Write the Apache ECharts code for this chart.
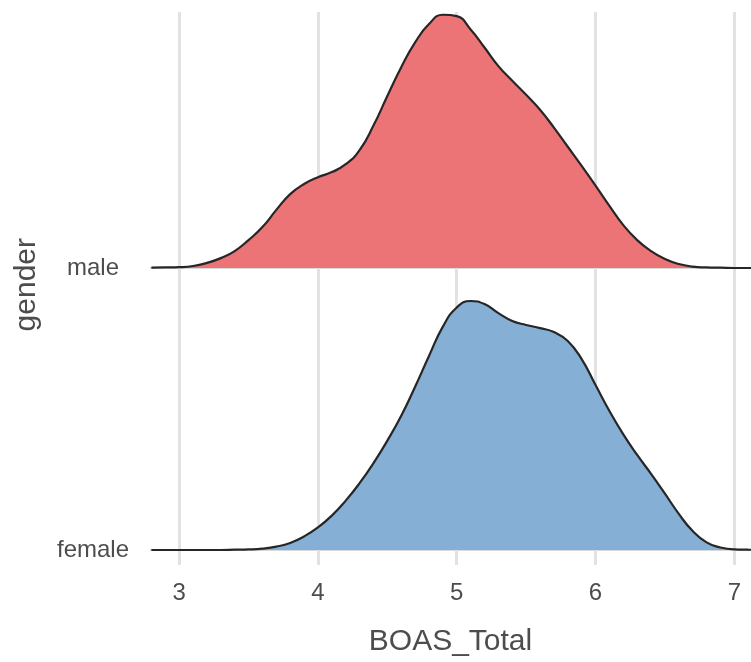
<!DOCTYPE html>
<html>
<head>
<meta charset="utf-8">
<script src="https://cdn.jsdelivr.net/npm/echarts@6/dist/echarts.min.js"></script>
<style>html,body{margin:0;padding:0;background:#fff;}#c{width:751px;height:662px;}</style>
</head>
<body>
<div id="c"></div>
<script>
// Data (ridgeline densities, heights relative to row spacing)
const xValues = [2.8,2.9,3.0,3.1,3.2,3.3,3.4,3.5,3.6,3.7,3.8,3.9,4.0,4.1,4.2,4.3,4.4,4.5,4.6,4.7,4.8,4.9,5.0,5.1,5.2,5.3,5.4,5.5,5.6,5.7,5.8,5.9,6.0,6.1,6.2,6.3,6.4,6.5,6.6,6.7,6.8,6.9,7.0,7.1,7.2];
const maleDensity = [0.001,0.002,0.003,0.007,0.018,0.035,0.060,0.099,0.145,0.206,0.262,0.298,0.322,0.340,0.368,0.418,0.505,0.610,0.712,0.800,0.865,0.898,0.893,0.846,0.782,0.716,0.664,0.614,0.561,0.498,0.430,0.362,0.292,0.220,0.152,0.099,0.060,0.032,0.014,0.005,0.002,0.001,0,0,0];
const femaleDensity = [0,0,0,0,0,0,0.001,0.002,0.005,0.012,0.025,0.048,0.080,0.122,0.175,0.237,0.308,0.388,0.476,0.579,0.688,0.792,0.860,0.883,0.872,0.840,0.812,0.798,0.787,0.773,0.741,0.677,0.585,0.493,0.410,0.337,0.270,0.200,0.128,0.067,0.027,0.009,0.002,0.001,0];
const categories = ['male', 'female'];
const xTicks = [3, 4, 5, 6, 7];

const maleData = xValues.map((x, i) => [x, maleDensity[i]]);
const femaleData = xValues.map((x, i) => [x, femaleDensity[i]]);

const chart = echarts.init(document.getElementById('c'), null, {renderer: 'canvas'});
const font = 'Liberation Sans, Arial, sans-serif';
const textColor = '#4d4d4d';
const gridColor = '#e2e2e2';
const baseColor = '#d9d9d9';

function xAxisFor(idx, withLabels) {
  return {
    type: 'value', gridIndex: idx, min: 2.79, max: 7.12,
    name: withLabels ? 'BOAS_Total' : '',
    nameLocation: 'middle', nameGap: 77,
    nameTextStyle: {fontSize: 30, color: textColor, fontFamily: font},
    axisLine: {show: false},
    axisTick: {show: withLabels, customValues: xTicks, length: 15, lineStyle: {color: gridColor, width: 3}},
    axisLabel: {show: withLabels, customValues: xTicks, margin: 31, fontSize: 24, color: textColor, fontFamily: font},
    splitLine: {show: true, showMinLine: true, showMaxLine: true, lineStyle: {color: gridColor, width: 3}}
  };
}
function yAxisFor(idx, max, label, rich) {
  return {
    type: 'value', gridIndex: idx, min: 0, max: max, interval: 1,
    axisLine: {show: false}, axisTick: {show: false},
    axisLabel: {
      margin: 21, fontSize: 24, color: textColor, fontFamily: font,
      customValues: [0],
      formatter: () => '{a|' + label + '}',
      rich: {a: rich}
    },
    splitLine: {show: true, showMinLine: true, showMaxLine: false, lineStyle: {color: baseColor, width: 2}}
  };
}

chart.setOption({
  animation: false,
  backgroundColor: '#ffffff',
  grid: [
    {left: 150, right: 0, top: 12, height: 256},
    {left: 150, right: 0, top: 268, bottom: 112}
  ],
  xAxis: [xAxisFor(0, false), xAxisFor(1, true)],
  yAxis: [
    yAxisFor(0, 256 / 282, categories[0], {fontSize: 24, color: textColor, fontFamily: font, padding: [0, 10, 0, 0]}),
    yAxisFor(1, 1, categories[1], {fontSize: 24, color: textColor, fontFamily: font})
  ],
  graphic: [{
    type: 'text', left: 12, top: 238, rotation: Math.PI / 2,
    style: {text: 'gender', fontSize: 30, fill: textColor, fontFamily: font}
  }],
  series: [
    {
      type: 'line', name: categories[0], xAxisIndex: 0, yAxisIndex: 0, data: maleData,
      smooth: 0.5, symbol: 'none', clip: false,
      lineStyle: {color: '#262626', width: 2.2},
      areaStyle: {color: '#ed7476', opacity: 1}, z: 3
    },
    {
      type: 'line', name: categories[1], xAxisIndex: 1, yAxisIndex: 1, data: femaleData,
      smooth: 0.5, symbol: 'none', clip: false,
      lineStyle: {color: '#262626', width: 2.2},
      areaStyle: {color: '#85afd4', opacity: 1}, z: 3
    }
  ]
});
</script>
</body>
</html>
